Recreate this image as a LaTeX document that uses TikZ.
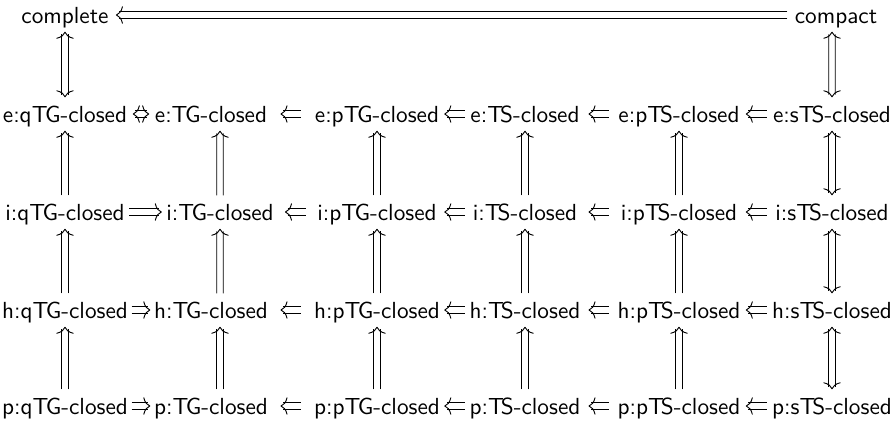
\documentclass[tikz,border=0pt]{standalone}
\usetikzlibrary{arrows.meta,calc,decorations.markings}
\newcommand\myTG{T\kern-1.1ptG}
\newcommand\myTS{T\kern-1.3ptS}
\begin{document}
\begin{tikzpicture}[x=0.43pt,y=-0.43pt,
  lbl/.style={font=\sffamily, inner xsep=3pt, inner ysep=0pt, text height=10.5pt, text depth=3.5pt},
  vcon/.style={draw=none,
     postaction={draw,line width=.4pt,transform canvas={xshift=1.4pt},#1},
     postaction={draw,line width=.4pt,transform canvas={xshift=-1.4pt},#1}},
  hcon/.style={draw=none,
     postaction={draw,line width=.4pt,transform canvas={yshift=1.4pt},#1},
     postaction={draw,line width=.4pt,transform canvas={yshift=-1.4pt},#1}},
  tipE/.style={postaction={decorate,decoration={markings,
     mark=at position 1 with {\arrow[line width=.4pt]{Computer Modern Rightarrow[width=7.5pt,length=3pt]}}}}},
  tipS/.style={postaction={decorate,decoration={markings,
     mark=at position 0 with {\arrowreversed[line width=.4pt]{Computer Modern Rightarrow[width=7.5pt,length=3pt]}}}}},
  hseg/.style={to path={let \p3=($(\tikztostart.east)!0.5!(\tikztotarget.west)$) in (\x3-#1/2,\y3) -- (\x3+#1/2,\y3)}},
  up/.style={vcon={shorten >=1.1pt}, tipE},
  updown/.style={vcon={shorten >=1.1pt, shorten <=1.1pt}, tipE, tipS},
  leftarr/.style={hseg=#1, hcon={shorten <=1.1pt}, tipS},
  rightarr/.style={hseg=#1, hcon={shorten >=1.1pt}, tipE},
  bothharr/.style={hseg=#1, hcon={shorten >=1.1pt, shorten <=1.1pt}, tipE, tipS},
]
\useasboundingbox (0,0) rectangle (891,422);
% column centres
\def\ca{65}\def\cb{211}\def\cc{377}\def\cd{525}\def\ce{679}\def\cf{832}
% top row
\node[lbl] (complete) at (\ca,15) {complete};
\node[lbl] (compact) at (836,15) {compact};
% row e
\node[lbl] (e1) at (\ca,114) {e:q\myTG-closed};
\node[lbl] (e2) at (\cb,114) {e:\myTG-closed};
\node[lbl] (e3) at (\cc,114) {e:p\myTG-closed};
\node[lbl] (e4) at (\cd,114) {e:\myTS-closed};
\node[lbl] (e5) at (\ce,114) {e:p\myTS-closed};
\node[lbl] (e6) at (\cf,114) {e:s\myTS-closed};
% row i
\node[lbl] (i1) at (\ca,212) {i:q\myTG-closed};
\node[lbl] (i2) at (220,212) {i:\myTG-closed};
\node[lbl] (i3) at (\cc,212) {i:p\myTG-closed};
\node[lbl] (i4) at (\cd,212) {i:\myTS-closed};
\node[lbl] (i5) at (\ce,212) {i:p\myTS-closed};
\node[lbl] (i6) at (\cf,212) {i:s\myTS-closed};
% row h
\node[lbl] (h1) at (\ca,310) {h:q\myTG-closed};
\node[lbl] (h2) at (\cb,310) {h:\myTG-closed};
\node[lbl] (h3) at (\cc,310) {h:p\myTG-closed};
\node[lbl] (h4) at (\cd,310) {h:\myTS-closed};
\node[lbl] (h5) at (\ce,310) {h:p\myTS-closed};
\node[lbl] (h6) at (\cf,310) {h:s\myTS-closed};
% row p
\node[lbl] (p1) at (\ca,406) {p:q\myTG-closed};
\node[lbl] (p2) at (\cb,406) {p:\myTG-closed};
\node[lbl] (p3) at (\cc,406) {p:p\myTG-closed};
\node[lbl] (p4) at (\cd,406) {p:\myTS-closed};
\node[lbl] (p5) at (\ce,406) {p:p\myTS-closed};
\node[lbl] (p6) at (\cf,406) {p:s\myTS-closed};

% top arrows
\path[hcon={shorten >=1.1pt}, tipE] (compact) -- (complete);
\path[updown] (complete) -- (e1);
\path[updown] ([xshift=-1.72pt]compact.south) -- (e6.north);

% horizontal arrows
\path[bothharr=7pt] (e1) to (e2);
\path[rightarr=14pt] (i1) to (i2);
\path[rightarr=8pt] (h1) to (h2);
\path[rightarr=8pt] (p1) to (p2);
\foreach \r in {e,i,h,p}{
  \path[leftarr=9pt] (\r2) to (\r3);
  \path[leftarr=9pt] (\r3) to (\r4);
  \path[leftarr=9pt] (\r4) to (\r5);
  \path[leftarr=9pt] (\r5) to (\r6);
}

% vertical arrows
\foreach \c in {1,3,4,5}{
  \path[up] (i\c) -- (e\c);
  \path[up] (h\c) -- (i\c);
  \path[up] (p\c) -- (h\c);
}
\path[up] (i2.north) -- ([xshift=3.87pt]e2.south);
\path[up] ([xshift=3.87pt]h2.north) -- (i2.south);
\path[up] ([xshift=3.87pt]p2.north) -- ([xshift=3.87pt]h2.south);
\path[updown] (e6) -- (i6);
\path[updown] (i6) -- (h6);
\path[updown] (h6) -- (p6);
\end{tikzpicture}
\end{document}
